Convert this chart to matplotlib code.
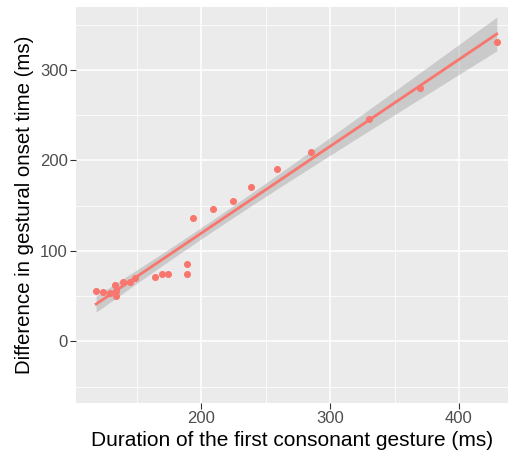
import numpy as np
import matplotlib.pyplot as plt

# first-consonant duration (ms) vs. gestural onset difference (ms)
duration = [118.6, 124, 129.5, 134, 134, 133, 139.5, 145, 149, 164, 169.5, 174.6,
            189.4, 189.4, 193.6, 209.5, 224.5, 239, 259, 285.3, 330.5, 369.8, 429.3]
onset_diff = [55.4, 55, 54, 56, 50, 62, 65.7, 65.7, 70, 71, 75, 75,
              86, 75, 136, 146, 155, 170.5, 191, 209.5, 246, 280.5, 330.5]

x_ticks = [200, 300, 400]
y_ticks = [0, 100, 200, 300]

plt.rcParams['font.family'] = ['Liberation Sans', 'DejaVu Sans']

x = np.array(duration)
y = np.array(onset_diff)

# linear fit with 95% confidence band
slope, intercept = np.polyfit(x, y, 1)
n = len(x)
resid = y - (slope * x + intercept)
s = np.sqrt(np.sum(resid ** 2) / (n - 2))
t_crit = 2.08
xs = np.linspace(x.min(), x.max(), 80)
fit = slope * xs + intercept
se = s * np.sqrt(1 / n + (xs - x.mean()) ** 2 / np.sum((x - x.mean()) ** 2))

fig = plt.figure(figsize=(5.08, 4.58), dpi=100)
ax = fig.add_axes([76 / 508, 1 - 403 / 458, 1 - 76 / 508, (403 - 7) / 458])
ax.set_facecolor('#EBEBEB')

ax.set_xlim(103, 438)
ax.set_ylim(-68, 369.5)
ax.set_xticks(x_ticks)
ax.set_yticks(y_ticks)
ax.set_xticks([150, 250, 350], minor=True)
ax.set_yticks([-50, 50, 150, 250, 350], minor=True)
ax.grid(which='major', color='white', linewidth=1.1)
ax.grid(which='minor', color='white', linewidth=0.55)
ax.set_axisbelow(True)
for sp in ax.spines.values():
    sp.set_visible(False)
ax.tick_params(which='major', length=4, color='#333333', labelsize=12,
               labelcolor='#4D4D4D', pad=2)
ax.tick_params(which='minor', length=0)

ax.scatter(x, y, s=26, color='#F8766D', zorder=3, linewidths=0)
ax.fill_between(xs, fit - t_crit * se, fit + t_crit * se, color='#999999',
                alpha=0.4, linewidth=0, zorder=2)
ax.plot(xs, fit, color='#F8766D', linewidth=2, zorder=4)

ax.set_xlabel('Duration of the first consonant gesture (ms)', fontsize=15,
              labelpad=3)
ax.set_ylabel('Difference in gestural onset time (ms)', fontsize=14.7,
              labelpad=4)

fig.savefig('out.png', dpi=100)
